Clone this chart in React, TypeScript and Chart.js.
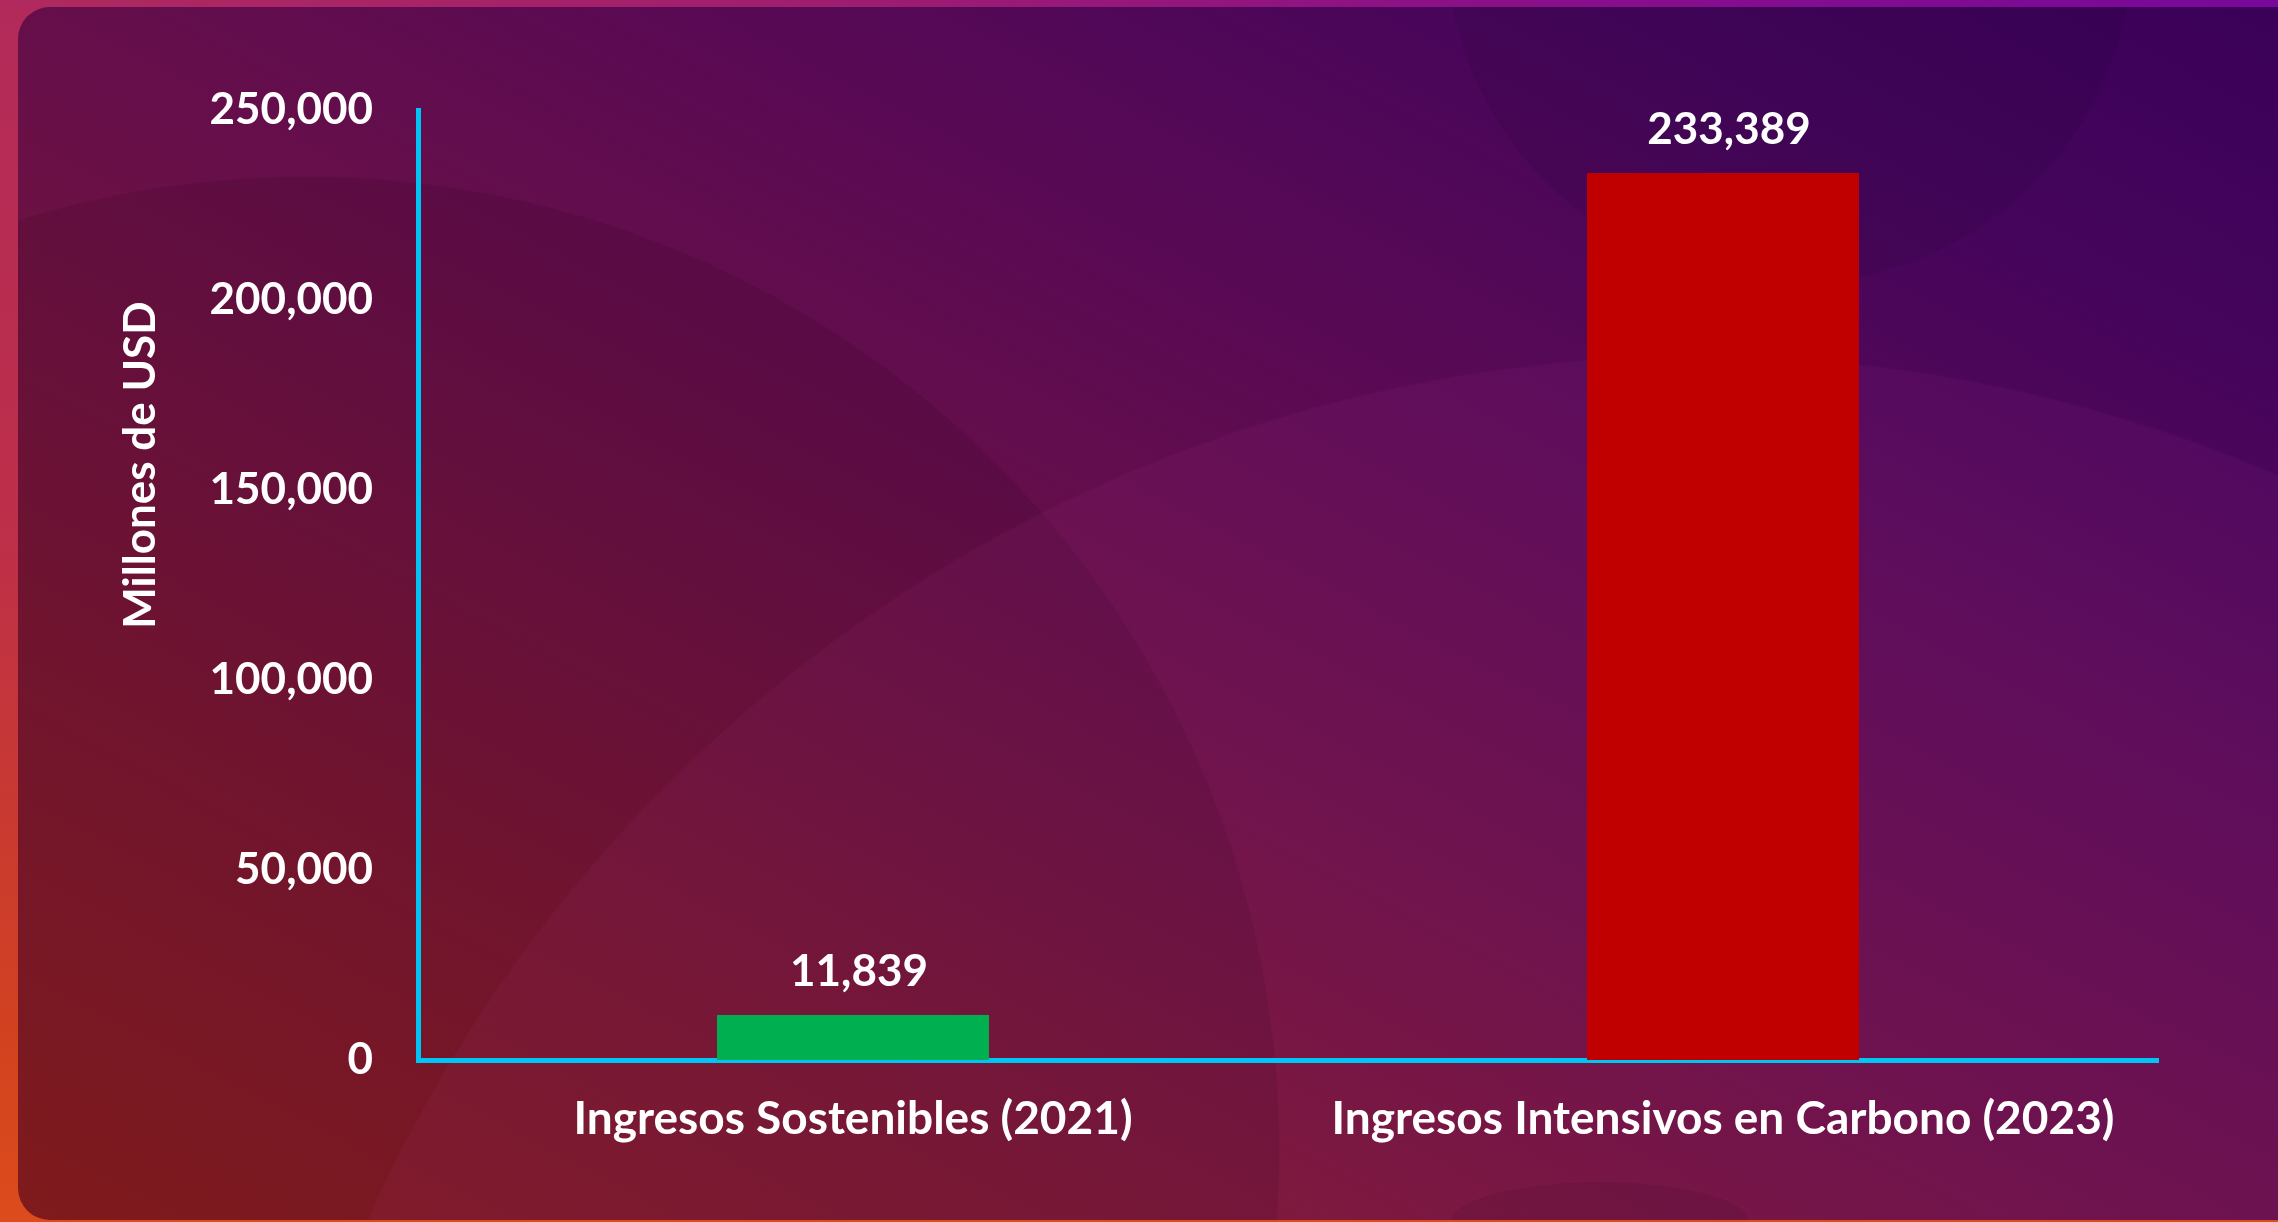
import React, { useEffect, useRef } from "react";
import { Chart, registerables } from "chart.js";

Chart.register(...registerables);

const categories = ["Ingresos Sostenibles (2021)", "Ingresos Intensivos en Carbono (2023)"];
const values = [11839, 233389];
const barColors = ["#00b050", "#c00000"];
const yMin = 0;
const yMax = 250000;
const yStep = 50000;
const yTitle = "Millones de USD";

const W = 2278;
const H = 1222;
const FONT = "Lato, 'Noto Sans', sans-serif";
const fmt = (v: number) => v.toLocaleString("en-US");

const valueLabels = {
  id: "valueLabels",
  afterDatasetsDraw(chart: any) {
    const ctx = chart.ctx;
    const meta = chart.getDatasetMeta(0);
    ctx.save();
    ctx.fillStyle = "#ffffff";
    ctx.font = `bold 44px ${FONT}`;
    ctx.textAlign = "center";
    ctx.textBaseline = "middle";
    meta.data.forEach((el: any, i: number) => {
      ctx.fillText(fmt(values[i]), el.x + 6, el.y - 43);
    });
    ctx.restore();
  },
};

const yTitlePlugin = {
  id: "yTitlePlugin",
  afterDraw(chart: any) {
    const ctx = chart.ctx;
    ctx.save();
    ctx.translate(141, 465);
    ctx.rotate(-Math.PI / 2);
    ctx.fillStyle = "#ffffff";
    ctx.font = `bold 44px ${FONT}`;
    ctx.textAlign = "center";
    ctx.textBaseline = "middle";
    ctx.fillText(yTitle, 0, 0);
    ctx.restore();
  },
};

export default function App() {
  const ref = useRef<HTMLCanvasElement | null>(null);

  useEffect(() => {
    if (!ref.current) return;
    const chart = new Chart(ref.current, {
      type: "bar",
      data: {
        labels: categories,
        datasets: [
          {
            data: values,
            backgroundColor: barColors,
            borderWidth: 0,
            barPercentage: 0.3126,
            categoryPercentage: 1,
          },
        ],
      },
      options: {
        animation: false,
        responsive: false,
        devicePixelRatio: 1,
        layout: { padding: { left: 0, right: 120, top: 110, bottom: 0 } },
        plugins: { legend: { display: false }, tooltip: { enabled: false } },
        scales: {
          x: {
            grid: { display: false, drawTicks: false },
            border: { display: true, color: "#00c4f4", width: 5 },
            ticks: {
              color: "#ffffff",
              font: { family: FONT, size: 46, weight: "bold" },
              padding: 32,
              maxRotation: 0,
              autoSkip: false,
            },
            afterFit(scale: any) {
              scale.height = 162;
              scale.paddingLeft = 0;
              scale.paddingRight = 0;
            },
          },
          y: {
            min: yMin,
            max: yMax,
            grid: { display: false, drawTicks: false },
            border: { display: true, color: "#00c4f4", width: 5 },
            ticks: {
              stepSize: yStep,
              color: "#ffffff",
              font: { family: FONT, size: 44, weight: "bold" },
              padding: 45,
              callback: (v: any) => fmt(Number(v)),
            },
            afterFit(scale: any) {
              scale.width = 418;
              scale.paddingTop = 0;
              scale.paddingBottom = 0;
            },
          },
        },
      },
      plugins: [valueLabels, yTitlePlugin],
    });
    return () => chart.destroy();
  }, []);

  const panelBg = [
    // top-right dark circle
    "radial-gradient(circle 345px at 1772px -67px, rgba(20,0,40,0.11) 99.5%, rgba(0,0,0,0) 100%)",
    // bottom-center small dark ellipse
    "radial-gradient(ellipse 150px 40px at 1582px 1215px, rgba(30,0,30,0.1) 99%, rgba(0,0,0,0) 100%)",
    // big lighter circle on the right
    "radial-gradient(circle 1460px at 1682px 1808px, rgba(220,80,200,0.055) 99.85%, rgba(0,0,0,0) 100%)",
    // big dark circle on the left
    "radial-gradient(circle 974px at 288px 1143px, rgba(40,0,25,0.14) 99.85%, rgba(0,0,0,0) 100%)",
    // base gradient
    "linear-gradient(to top right, #8e1f1c 0%, #7c1732 24%, #6a1046 44%, #5a0a54 64%, #44045c 85%, #3a0058 100%)",
  ].join(", ");

  return (
    <div
      style={{
        position: "fixed",
        left: 0,
        top: 0,
        width: W,
        height: H,
        overflow: "hidden",
        background: "linear-gradient(to bottom, #b22a5a 0%, #be2f48 45%, #d2421f 85%, #dc4c1c 100%)",
      }}
    >
      <div
        style={{
          position: "absolute",
          left: 0,
          top: 0,
          width: W,
          height: 8,
          background: "linear-gradient(to right, #b02a5e 0%, #a01e6e 35%, #8a1088 65%, #78089a 100%)",
        }}
      />
      <div
        style={{
          position: "absolute",
          left: 18,
          top: 7,
          width: W + 40,
          height: 1213,
          borderRadius: 32,
          background: panelBg,
        }}
      />
      <canvas
        ref={ref}
        width={W}
        height={H}
        style={{ position: "absolute", left: 0, top: 0, width: W, height: H }}
      />
    </div>
  );
}
